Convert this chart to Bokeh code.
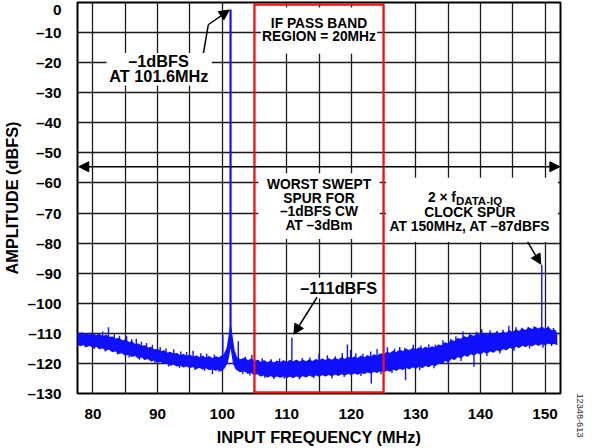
import numpy as np
from bokeh.plotting import figure
from bokeh.models import (Range1d, FixedTicker, Arrow, NormalHead, Label, BoxAnnotation, LinearAxis)
from bokeh.embed import file_html
from bokeh.resources import INLINE

# ---------------- data ----------------
x_ticks = [80, 90, 100, 110, 120, 130, 140, 150]
x_grid = [80, 85, 90, 95, 100, 105, 110, 115, 120, 125, 130, 135, 140, 145, 150]
y_ticks = [-130, -120, -110, -100, -90, -80, -70, -60, -50, -40, -30, -20, -10, 0]

# noise floor envelope: frequency (MHz), upper edge and lower edge (dBFS)
env_freq = [77.6, 78.0, 78.5, 79.0, 79.5, 80.0, 80.5, 81.0, 81.5, 82.0, 82.5, 83.0, 83.5, 84.0, 84.5,
            85.0, 85.5, 86.0, 86.5, 87.0, 87.5, 88.0, 88.5, 89.0, 89.5, 90.0, 90.5, 91.0, 91.5, 92.0,
            92.5, 93.0, 93.5, 94.0, 94.5, 95.0, 95.5, 96.0, 96.5, 97.0, 97.5, 98.0, 98.5, 99.0, 99.5,
            99.8, 100.3, 100.8, 101.1, 101.3, 101.5, 101.8, 102.2, 102.8,
            103.5, 104.0, 104.5, 105.0, 105.5, 106.0, 106.5, 107.0, 107.5, 108.0, 108.5, 109.0, 109.5,
            110.0, 110.5, 111.0, 111.5, 112.0, 112.5, 113.0, 113.5, 114.0, 114.5, 115.0, 115.5, 116.0,
            116.5, 117.0, 117.5, 118.0, 118.5, 119.0, 119.5, 120.0, 120.5, 121.0, 121.5, 122.0, 122.5,
            123.0, 123.5, 124.0, 124.5, 125.0, 125.5, 126.0, 126.5, 127.0, 127.5, 128.0, 128.5, 129.0,
            129.5, 130.0, 130.5, 131.0, 131.5, 132.0, 132.5, 133.0, 133.5, 134.0, 134.5, 135.0, 135.5,
            136.0, 136.5, 137.0, 137.5, 138.0, 138.5, 139.0, 139.5, 140.0, 140.5, 141.0, 141.5, 142.0,
            142.5, 143.0, 143.5, 144.0, 144.5, 145.0, 145.5, 146.0, 146.5, 147.0, 147.5, 148.0, 148.5,
            149.0, 149.5, 150.0, 150.5, 151.0, 151.5, 151.9]
env_upper = [-110.3, -110.0, -110.6, -110.2, -110.8, -110.3, -110.9, -110.5, -111.2, -110.7, -111.4, -111.3,
             -112.0, -111.8, -112.6, -112.3, -113.1, -112.9, -113.8, -113.6, -114.4, -114.2, -115.0, -114.8,
             -115.6, -115.4, -116.2, -115.9, -116.7, -116.4, -117.0, -116.8, -117.5, -117.1, -117.8, -117.3,
             -118.0, -117.6, -118.2, -117.7, -118.4, -117.8, -118.5, -117.9, -118.3,
             -117.8, -117.3, -115.0, -111.0, -108.0, -111.0, -115.5, -118.0, -118.9,
             -118.4, -119.2, -118.7, -119.5, -119.0, -119.8, -119.2, -119.9, -119.3, -120.0, -119.3, -119.9,
             -119.2, -119.8, -119.1, -119.7, -119.0, -119.7, -119.0, -119.6, -118.9, -119.5, -118.8, -119.3,
             -118.6, -119.2, -118.5, -119.1, -118.3, -119.0, -118.2, -118.8, -118.0, -118.6, -117.9, -118.5,
             -117.7, -118.3, -117.5, -118.1, -117.2, -117.8, -116.9, -117.3, -116.4, -116.8, -116.0, -116.5,
             -115.7, -116.2, -115.4, -115.9, -115.1, -115.6, -114.9, -115.4, -114.7, -115.3, -114.5, -115.0,
             -114.0, -114.3, -113.2, -113.6, -112.5, -112.8, -111.8, -112.1, -111.2, -111.6, -110.7, -111.1,
             -110.3, -110.8, -110.0, -110.7, -109.9, -110.6, -109.8, -110.5, -109.6, -110.2, -109.2, -109.9,
             -108.9, -109.5, -108.6, -109.2, -108.3, -108.9, -108.1, -108.7, -108.0, -108.8, -108.2, -109.2,
             -109.0, -110.3]
env_lower = [-113.3, -114.0, -113.6, -114.3, -113.9, -114.6, -114.2, -115.0, -114.7, -115.5, -115.1, -116.0,
             -115.7, -116.6, -116.3, -117.2, -116.8, -117.6, -117.2, -118.1, -117.7, -118.6, -118.2, -119.1,
             -118.7, -119.5, -119.2, -120.0, -119.7, -120.5, -120.1, -120.8, -120.4, -121.1, -120.7, -121.3,
             -120.9, -121.6, -121.2, -121.8, -121.3, -122.0, -121.6, -122.2, -121.8,
             -122.4, -121.5, -119.5, -116.0, -113.0, -116.0, -120.0, -121.8, -122.7,
             -122.4, -123.2, -122.8, -123.7, -123.3, -124.1, -123.7, -124.4, -123.9, -124.5, -124.0, -124.5,
             -124.0, -124.6, -124.1, -124.6, -124.0, -124.5, -123.9, -124.4, -123.8, -124.3, -123.7, -124.2,
             -123.6, -124.1, -123.5, -124.0, -123.4, -123.9, -123.3, -123.8, -123.2, -123.6, -123.0, -123.5,
             -122.9, -123.3, -122.7, -123.1, -122.5, -122.9, -122.3, -122.7, -122.1, -122.5, -121.8, -122.2,
             -121.5, -121.9, -121.2, -121.7, -121.0, -121.5, -120.8, -121.3, -120.5, -121.0, -120.2, -120.7,
             -119.7, -120.0, -118.9, -119.3, -118.2, -118.6, -117.6, -118.0, -117.0, -117.5, -116.6, -117.1,
             -116.3, -116.8, -116.0, -116.5, -115.7, -116.2, -115.3, -115.8, -114.9, -115.4, -114.5, -115.0,
             -114.1, -114.6, -113.8, -114.3, -113.6, -114.1, -113.4, -113.9, -113.3, -113.7, -113.1, -113.5,
             -113.2, -113.7]

# upward spikes / spurs (MHz, peak dBFS)
up_freq = [78.3, 79.6, 80.8, 81.5, 82.4, 83.3, 84.1, 85.2, 86.0, 86.7, 87.5, 88.3, 89.2, 90.4, 91.3, 92.5,
           93.6, 94.5, 95.5, 96.7, 97.6, 98.8, 100.1, 102.5, 103.6, 104.6, 106.2, 107.6, 108.9, 110.8, 112.4,
           113.6, 115.0, 116.3, 117.5, 118.6, 119.4, 119.9, 120.7, 121.8, 123.0, 124.0, 125.6, 126.7, 127.5,
           128.3, 129.6, 130.8, 132.0, 133.0, 134.2, 135.4, 136.2, 137.3, 138.3, 139.4, 140.2, 141.5, 142.6,
           143.5, 144.4, 145.5, 146.4, 147.4, 148.3, 149.5, 150.5, 151.3]
up_level = [-109.6, -109.8, -110.0, -109.4, -108.0, -110.3, -110.8, -111.0, -112.0, -111.8, -112.8, -113.2,
            -113.8, -114.5, -115.0, -115.3, -116.0, -116.2, -115.8, -116.6, -116.8, -117.0, -110.5, -112.6,
            -117.8, -117.1, -118.3, -118.6, -118.4, -111.5, -118.2, -118.0, -116.8, -117.3, -117.6, -116.5,
            -113.7, -115.5, -116.6, -116.8, -116.0, -115.2, -114.6, -115.0, -114.5, -114.8, -113.8, -114.0,
            -113.6, -113.8, -112.3, -111.8, -111.0, -109.4, -109.8, -109.5, -108.6, -109.0, -109.2, -108.8,
            -107.5, -108.0, -108.1, -107.9, -107.6, -87.2, -107.6, -108.2]

# downward spikes (MHz, dip dBFS)
dn_freq = [78.8, 80.2, 81.9, 83.8, 85.6, 87.2, 89.6, 91.7, 93.4, 95.8, 97.3, 98.5, 99.5, 103.2, 104.3, 106.6,
           108.0, 109.6, 112.0, 114.2, 117.0, 118.9, 121.5, 123.1, 124.6, 126.3, 128.4, 130.6, 132.8, 135.0,
           137.0, 139.0, 141.0, 143.0, 145.2, 147.6, 149.7, 151.0]
dn_level = [-114.6, -115.2, -116.0, -117.0, -118.0, -118.8, -119.8, -121.0, -121.5, -122.2, -122.4, -123.5,
            -122.8, -123.6, -124.0, -124.8, -125.2, -125.0, -125.3, -124.9, -125.0, -124.5, -124.2, -126.7,
            -123.6, -123.2, -125.6, -122.3, -121.6, -120.2, -119.2, -121.1, -117.5, -116.7, -115.8, -115.0,
            -114.8, -114.2]

# carrier
tone_freq = [101.3]
tone_level = [-2.3]

# IF pass band region
if_band = [105, 125]

# ---------------- figure ----------------
FONT = "Liberation Sans"
p = figure(width=590, height=448, x_range=Range1d(77.6, 152.4), y_range=Range1d(-130, 0),
           output_backend="svg", toolbar_location=None,
           min_border_left=71, min_border_right=30, min_border_top=2, min_border_bottom=52)
p.outline_line_color = "black"
p.outline_line_width = 2
p.outline_line_alpha = 1

p.xaxis.ticker = FixedTicker(ticks=x_ticks)
p.yaxis.ticker = FixedTicker(ticks=y_ticks)
p.xgrid.ticker = FixedTicker(ticks=x_grid)
p.ygrid.ticker = FixedTicker(ticks=y_ticks)
for g in (p.xgrid, p.ygrid):
    g.grid_line_color = "#1a1a1a"
    g.grid_line_width = 1.3
    g.grid_line_alpha = 1

p.yaxis.major_label_overrides = {v: (str(v).replace("-", "\u2013")) for v in y_ticks}
for ax in (p.xaxis, p.yaxis):
    ax.axis_line_color = None
    ax.major_tick_line_color = None
    ax.minor_tick_line_color = None
    ax.major_label_text_font = FONT
    ax.major_label_text_font_style = "bold"
    ax.major_label_text_font_size = "15.3px"
    ax.major_label_text_color = "black"
    ax.axis_label_text_font = FONT
    ax.axis_label_text_font_style = "bold"
    ax.axis_label_text_font_size = "16.3px"
    ax.axis_label_text_color = "black"
p.xaxis.axis_label = "INPUT FREQUENCY (MHz)"
p.yaxis.axis_label = "AMPLITUDE (dBFS)"
p.xaxis.major_label_standoff = 9
p.xaxis.axis_label_standoff = 6
p.yaxis.major_label_standoff = 10
p.yaxis.axis_label_standoff = 3

# figure number on the right side, reading upward
rax = LinearAxis(ticker=FixedTicker(ticks=[]), axis_line_color=None, major_tick_line_color=None,
                 minor_tick_line_color=None, major_label_standoff=0, major_tick_out=0,
                 axis_label="12348-613", axis_label_text_font=FONT, axis_label_text_font_size="9.2px",
                 axis_label_text_font_style="normal", axis_label_text_color="#333333",
                 axis_label_standoff=19)
try:
    rax.axis_label_align = "start"
except Exception:
    pass
try:
    rax.axis_label_orientation = -np.pi / 2
except Exception:
    pass
p.add_layout(rax, "right")

# white boxes behind texts (break the grid)
boxes = [(82.1, 98.4, -27.6, -16.8), (106.0, 124.0, -17.0, -1.7), (105.6, 124.4, -78.6, -56.8),
         (125.4, 152.0, -79.6, -58.3), (111.6, 124.6, -98.4, -91.5)]
for l, r, b, t in boxes:
    p.add_layout(BoxAnnotation(left=l, right=r, bottom=b, top=t, fill_color="white", fill_alpha=1,
                               line_color=None, level="glyph"))

# noise floor
BLUE = "#1010ff"
p.varea(x=env_freq, y1=env_lower, y2=env_upper, fill_color=BLUE)
p.line(env_freq, env_upper, line_color=BLUE, line_width=1.6)
p.line(env_freq, env_lower, line_color=BLUE, line_width=1.6)
mid = lambda f: np.interp(f, env_freq, (np.array(env_upper) + np.array(env_lower)) / 2)
p.segment(x0=up_freq, y0=up_level, x1=up_freq, y1=mid(up_freq), line_color=BLUE, line_width=1.4)
p.segment(x0=dn_freq, y0=dn_level, x1=dn_freq, y1=mid(dn_freq), line_color=BLUE, line_width=1.4)
p.segment(x0=tone_freq, y0=tone_level, x1=tone_freq, y1=mid(tone_freq), line_color=BLUE, line_width=2.2)

# IF band rectangle
p.quad(left=[if_band[0]], right=[if_band[1]], bottom=[-129.6], top=[-0.7], fill_color=None,
       line_color="#ff1010", line_width=2.2)

# arrows
def head():
    return NormalHead(size=10, fill_color="black", line_color="black", line_width=1)

p.add_layout(Arrow(x_start=77.8, y_start=-54.6, x_end=152.3, y_end=-54.6, start=head(), end=head(),
                   line_color="black", line_width=1.5))
p.line([97.1, 97.85], [-16.9, -7.4], line_color="black", line_width=1.5)
p.add_layout(Arrow(x_start=97.85, y_start=-7.4, x_end=101.1, y_end=-2.5, end=head(),
                   line_color="black", line_width=1.5))
p.add_layout(Arrow(x_start=114.7, y_start=-98.0, x_end=111.1, y_end=-110.3, end=head(),
                   line_color="black", line_width=1.5))
p.add_layout(Arrow(x_start=147.3, y_start=-79.6, x_end=149.35, y_end=-87.0, end=head(),
                   line_color="black", line_width=1.5))

# texts
def lab(x, y, t, size="13.8px", align="center", baseline="middle"):
    p.add_layout(Label(x=x, y=y, text=t, text_font=FONT, text_font_style="bold", text_font_size=size,
                       text_align=align, text_baseline=baseline, text_color="black"))

lab(90.15, -19.3, "\u20131dBFS", "16.3px")
lab(90.2, -24.4, "AT 101.6MHz", "16.3px")
lab(115.0, -7.0, "IF PASS BAND")
lab(115.0, -11.3, "REGION = 20MHz")
lab(115.0, -60.5, "WORST SWEPT")
lab(115.0, -65.0, "SPUR FOR")
lab(115.0, -69.6, "\u20131dBFS CW")
lab(115.0, -74.3, "AT \u20133dBm")
lab(136.2, -64.9, "2 \u00d7 f", "13.8px", "right", "alphabetic")
lab(136.2, -65.9, "DATA-IQ", "11.5px", "left", "alphabetic")
lab(138.35, -69.7, "CLOCK SPUR")
lab(138.35, -74.5, "AT 150MHz, AT \u201387dBFS")
lab(118.05, -95.0, "\u2013111dBFS", "16.3px")

open("out.html", "w").write(file_html(p, INLINE))
